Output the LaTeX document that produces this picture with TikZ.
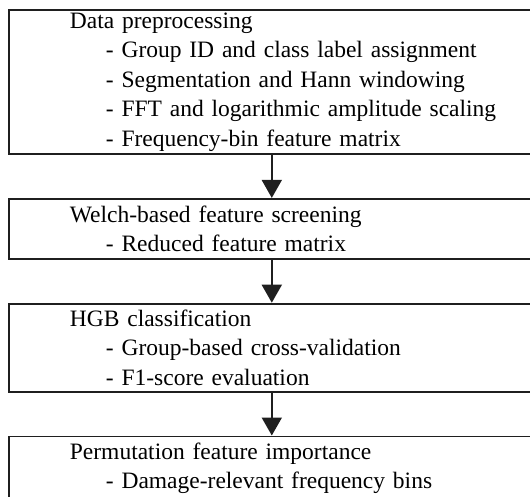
\documentclass[tikz,border=0pt]{standalone}
\usepackage{fontspec}
\setmainfont{Liberation Serif}
\usetikzlibrary{positioning,arrows.meta}

\tikzset{
  stage/.style={draw=black!88, line width=1.8pt, anchor=north, text width=525pt,
    inner xsep=0pt, inner ysep=0pt, align=left,
    font=\fontsize{23.5}{29.4}\selectfont},
  flow/.style={draw=black!88, line width=1.8pt,
    -{Triangle[width=20pt,length=18pt]}}
}

\begin{document}
\begin{tikzpicture}[node distance=43pt]
   \useasboundingbox (0,0) rectangle (530pt,-496pt);
   \begin{scope}
    \node[stage, minimum height=144pt, anchor=north west] (prep) at (8.4pt,-9.1pt)
      {\hspace*{60.6pt}Data preprocessing\\
       \hspace*{96.6pt}- Group ID and class label assignment\\
       \hspace*{96.6pt}- Segmentation and Hann windowing\\
       \hspace*{96.6pt}- FFT and logarithmic amplitude scaling\\
       \hspace*{96.6pt}- Frequency-bin feature matrix};
    \node[stage, minimum height=60pt, below=of prep] (welch)
      {\hspace*{60.6pt}Welch-based feature screening\\
       \hspace*{96.6pt}- Reduced feature matrix};
    \node[stage, minimum height=88pt, below=of welch] (hgb)
      {\hspace*{60.6pt}HGB classification\\
       \hspace*{96.6pt}- Group-based cross-validation\\
       \hspace*{96.6pt}- F1-score evaluation};
    \node[stage, minimum height=64pt, below=of hgb] (perm)
      {\hspace*{60.6pt}Permutation feature importance\\
       \hspace*{96.6pt}- Damage-relevant frequency bins};
   \end{scope}
   % arrows between the stages
   \draw[flow] (prep.south) -- (welch.north);
   \draw[flow] (welch.south) -- (hgb.north);
   \draw[flow] (hgb.south) -- (perm.north);
\end{tikzpicture}
\end{document}
